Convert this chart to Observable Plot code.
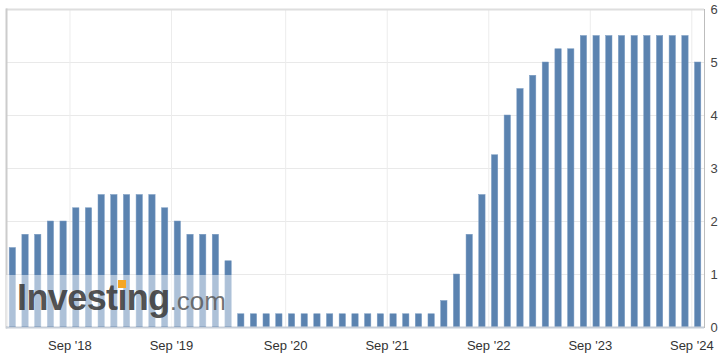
<!DOCTYPE html>
<html>
<head>
<meta charset="utf-8">
<script src="https://cdn.jsdelivr.net/npm/d3@7"></script>
<script src="https://cdn.jsdelivr.net/npm/@observablehq/plot@0.6"></script>
<style>
  html, body { margin: 0; padding: 0; background: #fff; }
  #wrap { position: relative; width: 726px; height: 361px; }
  #veil { position: absolute; left: 6px; top: 275px; width: 230px; height: 51px; background: rgba(255,255,255,0.5); }
  #logo { position: absolute; left: 17px; top: 280px; font-family: "Liberation Sans", Arial, sans-serif; white-space: nowrap; line-height: 1; }
  #logo .a { font-size: 36px; font-weight: bold; color: rgba(60,60,60,0.9); letter-spacing: -0.6px; }
  #logo .b { font-size: 26px; color: rgba(90,90,90,0.85); }
  #logo .i { position: relative; }
  #logo .i::after { content: ""; position: absolute; left: 1px; top: 3px; width: 8px; height: 8px; background: #f5a623; }
</style>
</head>
<body>
<div id="wrap"></div>
<script>
const dates = ["2018-01-31","2018-03-21","2018-05-02","2018-06-13","2018-08-01","2018-09-26","2018-11-08","2018-12-19",
  "2019-01-30","2019-03-20","2019-05-01","2019-06-19","2019-07-31","2019-09-18","2019-10-30","2019-12-11",
  "2020-01-29","2020-03-03","2020-03-15","2020-04-29","2020-06-10","2020-07-29","2020-09-16","2020-11-05","2020-12-16",
  "2021-01-27","2021-03-17","2021-04-28","2021-06-16","2021-07-28","2021-09-22","2021-11-03","2021-12-15",
  "2022-01-26","2022-03-16","2022-05-04","2022-06-15","2022-07-27","2022-09-21","2022-11-02","2022-12-14",
  "2023-02-01","2023-03-22","2023-05-03","2023-06-14","2023-07-26","2023-09-20","2023-11-01","2023-12-13",
  "2024-01-31","2024-03-20","2024-05-01","2024-06-12","2024-07-31","2024-09-18"];
const rates = [1.5,1.75,1.75,2,2,2.25,2.25,2.5,
  2.5,2.5,2.5,2.5,2.25,2,1.75,1.75,
  1.75,1.25,0.25,0.25,0.25,0.25,0.25,0.25,0.25,
  0.25,0.25,0.25,0.25,0.25,0.25,0.25,0.25,
  0.25,0.5,1,1.75,2.5,3.25,4,4.5,
  4.75,5,5.25,5.25,5.5,5.5,5.5,5.5,
  5.5,5.5,5.5,5.5,5.5,5];
const tickDates = ["2018-09-26","2019-09-18","2020-09-16","2021-09-22","2022-09-21","2023-09-20","2024-09-18"];
const tickLabels = ["Sep '18","Sep '19","Sep '20","Sep '21","Sep '22","Sep '23","Sep '24"];
const yTicks = [0,1,2,3,4,5,6];

const data = dates.map((d, i) => ({date: d, rate: rates[i]}));
const labelOf = new Map(tickDates.map((d, i) => [d, tickLabels[i]]));

const W = 726, H = 361, ml = 6, mr = 22;
const step = (W - ml - mr) / dates.length;

const chart = Plot.plot({
  width: W, height: H,
  marginLeft: ml, marginRight: mr, marginTop: 9, marginBottom: 34,
  style: {fontFamily: "'Liberation Sans', Arial, sans-serif", fontSize: "13px", color: "#333", background: "#fff"},
  x: {type: "band", domain: dates, paddingInner: 0.5, paddingOuter: 0.25, label: null},
  y: {domain: [0, 6], label: null},
  marks: [
    Plot.ruleY(yTicks.slice(1), {stroke: "#e9e9e9", strokeWidth: 1}),
    Plot.ruleX(tickDates, {dx: -step / 2, stroke: "#ececec", strokeWidth: 1}),
    Plot.barY(data, {x: "date", y: "rate", fill: "#5b83b0", stroke: "#7d9dc4", strokeWidth: 0.5}),
    Plot.ruleY([6], {stroke: "#dedede", strokeWidth: 2}),
    Plot.frame({anchor: "left", stroke: "#cccccc", strokeWidth: 2}),
    Plot.frame({anchor: "right", stroke: "#bdbdbd", strokeWidth: 1}),
    Plot.ruleY([0], {stroke: "#c6cdd7", strokeWidth: 2}),
    Plot.axisX({ticks: tickDates, tickFormat: d => labelOf.get(d), tickSize: 0, tickPadding: 13, dx: -step / 2, fill: "#333"}),
    Plot.axisY({anchor: "right", ticks: yTicks, tickFormat: d => String(d), tickSize: 0, tickPadding: 6, fill: "#444"})
  ]
});

const wrap = document.getElementById("wrap");
wrap.appendChild(chart);
const veil = document.createElement("div"); veil.id = "veil"; wrap.appendChild(veil);
const logo = document.createElement("div"); logo.id = "logo";
logo.innerHTML = '<span class="a">Invest<span class="i">i</span>ng</span><span class="b">.com</span>';
wrap.appendChild(logo);
</script>
</body>
</html>
